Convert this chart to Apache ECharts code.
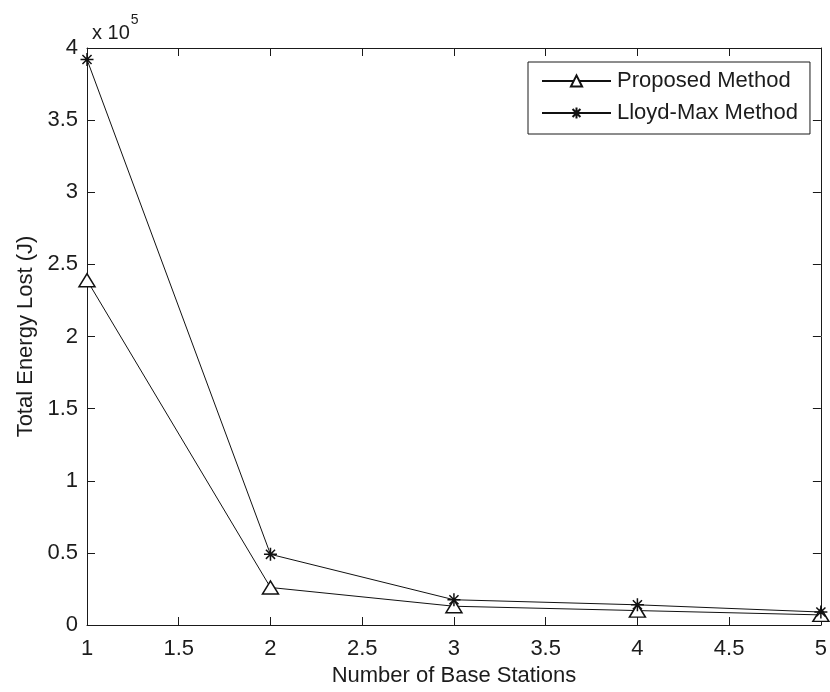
<!DOCTYPE html>
<html>
<head>
<meta charset="utf-8">
<script src="https://cdn.jsdelivr.net/npm/echarts@6/dist/echarts.min.js"></script>
<style>html,body{margin:0;padding:0;background:#fff}#c{width:830px;height:692px}</style>
</head>
<body>
<div id="c"></div>
<script>
// Data (Total Energy Lost in J)
const baseStations = [1, 2, 3, 4, 5];
const proposedMethod = [239000, 26000, 13000, 10000, 7000];
const lloydMaxMethod = [392000, 49000, 17500, 14000, 9000];
const xTicks = [1, 1.5, 2, 2.5, 3, 3.5, 4, 4.5, 5];
const yTicks = [0, 0.5, 1, 1.5, 2, 2.5, 3, 3.5, 4];
const yScale = 1e5;

const FONT = '"Liberation Sans", Arial, sans-serif';
const TXT = '#1c1c1c';
const AX = '#1a1a1a';

const asterisk = 'path://M0,-10L0,10M-10,0L10,0M-7,-7L7,7M-7,7L7,-7';

const chart = echarts.init(document.getElementById('c'), null, {renderer: 'canvas'});

const tickCommon = {show: true, inside: true, length: 8, lineStyle: {color: AX, width: 1}};

chart.setOption({
  backgroundColor: '#fff',
  animation: false,
  textStyle: {fontFamily: FONT},
  title: {
    left: 87, top: 8,
    text: '{a|x 10}{b|5}',
    textStyle: {
      fontWeight: 'normal',
      rich: {
        a: {fontSize: 20, fontFamily: FONT, fontWeight: 'normal', color: TXT, padding: [10, 0, 0, 0]},
        b: {fontSize: 14, fontFamily: FONT, fontWeight: 'normal', color: TXT, verticalAlign: 'top', padding: [0, 0, 0, 1]}
      }
    }
  },
  grid: {left: 87, right: 5, top: 48, bottom: 59, containLabel: false},
  legend: {
    orient: 'vertical',
    left: 528, top: 62,
    padding: [8, 12, 10, 13],
    itemGap: 10,
    itemWidth: 69, itemHeight: 14,
    backgroundColor: '#fff',
    borderColor: AX, borderWidth: 1, borderRadius: 0,
    textStyle: {fontSize: 22, color: TXT, fontFamily: FONT, padding: [0, 0, 0, 1]},
    data: ['Proposed Method', 'Lloyd-Max Method']
  },
  xAxis: [{
    type: 'value',
    min: xTicks[0], max: xTicks[xTicks.length - 1], interval: 0.5,
    name: 'Number of Base Stations',
    nameLocation: 'middle', nameGap: 40,
    nameTextStyle: {fontSize: 22, color: TXT, fontFamily: FONT},
    axisLine: {show: true, lineStyle: {color: AX, width: 1}},
    axisTick: tickCommon,
    axisLabel: {fontSize: 22, color: TXT, margin: 13, fontFamily: FONT,
      formatter: v => String(v)},
    splitLine: {show: false}
  }, {
    type: 'value', position: 'top',
    min: xTicks[0], max: xTicks[xTicks.length - 1], interval: 0.5,
    axisLine: {show: true, onZero: false, lineStyle: {color: AX, width: 1}},
    axisTick: tickCommon,
    axisLabel: {show: false},
    splitLine: {show: false}
  }],
  yAxis: [{
    type: 'value',
    min: yTicks[0] * yScale, max: yTicks[yTicks.length - 1] * yScale, interval: 0.5 * yScale,
    name: 'Total Energy Lost (J)',
    nameLocation: 'middle', nameGap: 50, nameRotate: 90,
    nameTextStyle: {fontSize: 22, color: TXT, fontFamily: FONT},
    axisLine: {show: true, lineStyle: {color: AX, width: 1}},
    axisTick: tickCommon,
    axisLabel: {fontSize: 22, color: TXT, margin: 9, fontFamily: FONT, padding: [4, 0, 0, 0],
      formatter: v => String(Math.round(v / yScale * 10) / 10)},
    splitLine: {show: false}
  }, {
    type: 'value', position: 'right',
    min: yTicks[0] * yScale, max: yTicks[yTicks.length - 1] * yScale, interval: 0.5 * yScale,
    axisLine: {show: true, onZero: false, lineStyle: {color: AX, width: 1}},
    axisTick: tickCommon,
    axisLabel: {show: false},
    splitLine: {show: false}
  }],
  series: [{
    name: 'Proposed Method',
    type: 'line',
    data: baseStations.map((x, i) => [x, proposedMethod[i]]),
    symbol: 'triangle', symbolSize: [16, 13],
    lineStyle: {color: '#111', width: 1},
    itemStyle: {color: '#fff', borderColor: '#111', borderWidth: 1.5},
    z: 3
  }, {
    name: 'Lloyd-Max Method',
    type: 'line',
    data: baseStations.map((x, i) => [x, lloydMaxMethod[i]]),
    symbol: asterisk, symbolSize: 13,
    lineStyle: {color: '#111', width: 1},
    itemStyle: {color: '#111', borderColor: '#111', borderWidth: 1.5},
    z: 4
  }]
});
</script>
</body>
</html>
